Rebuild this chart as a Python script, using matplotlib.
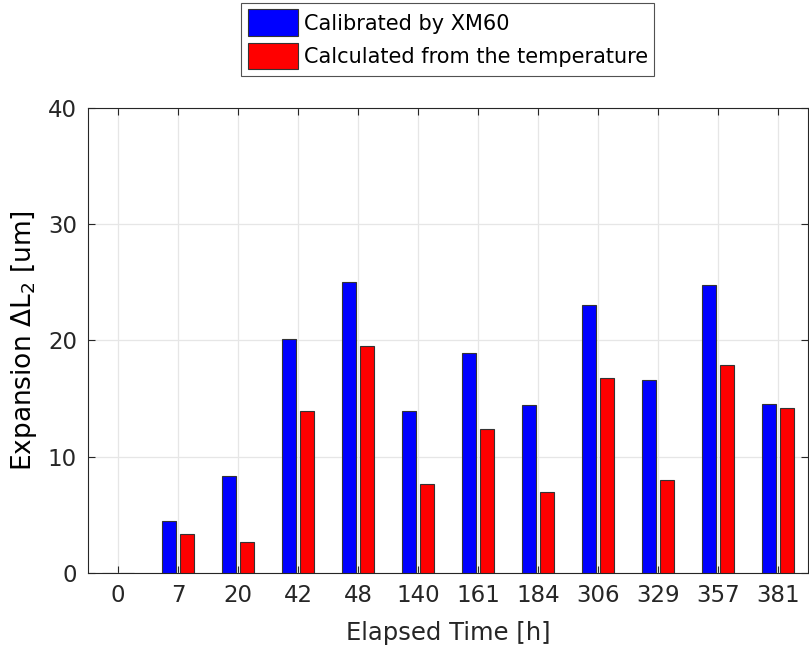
import matplotlib
matplotlib.use("Agg")
import matplotlib.pyplot as plt
import numpy as np

elapsed_hours = ["0", "7", "20", "42", "48", "140", "161", "184", "306", "329", "357", "381"]
calibrated_xm60 = [0, 4.45, 8.3, 20.1, 25.0, 13.9, 18.9, 14.4, 23.05, 16.6, 24.8, 14.5]
calculated_temp = [0, 3.3, 2.6, 13.9, 19.5, 7.65, 12.35, 6.95, 16.8, 7.95, 17.85, 14.15]

plt.rcParams["font.family"] = ["DejaVu Sans"]

fig = plt.figure(figsize=(8.09, 6.48), dpi=100)
ax = fig.add_axes([0.1088, 0.1162, 0.8900, 0.7171])

x = np.arange(1, len(elapsed_hours) + 1)
w = 0.235
off = 0.145
b1 = ax.bar(x - off, calibrated_xm60, width=w, color="#0000ff", edgecolor="#333333",
            linewidth=0.8, label="Calibrated by XM60", zorder=3)
b2 = ax.bar(x + off, calculated_temp, width=w, color="#ff0000", edgecolor="#333333",
            linewidth=0.8, label="Calculated from the temperature", zorder=3)

ax.set_xlim(0.5, len(elapsed_hours) + 0.5)
ax.set_ylim(0, 40)
ax.set_xticks(x)
ax.set_xticklabels(elapsed_hours)
ax.set_yticks([0, 10, 20, 30, 40])

ax.grid(True, color="#e6e6e6", linewidth=0.9, zorder=0)
ax.set_axisbelow(True)
ax.tick_params(direction="in", length=5, width=0.8, colors="#262626",
               labelsize=16.5, top=True, right=True, pad=8)
for s in ax.spines.values():
    s.set_color("#262626")
    s.set_linewidth(0.8)

ax.set_xlabel("Elapsed Time [h]", fontsize=17.5, color="#262626", labelpad=10)
ax.set_ylabel(r"Expansion $\Delta$L$_2$ [um]", fontsize=19, color="black", labelpad=6)

leg = fig.legend(handles=[b1, b2], loc="upper center", bbox_to_anchor=(0.5535, 0.995),
                 fontsize=15, frameon=True, fancybox=False, edgecolor="#262626",
                 handlelength=2.4, handleheight=1.6, handletextpad=0.3,
                 borderpad=0.3, labelspacing=0.3, borderaxespad=0.0)
leg.get_frame().set_linewidth(0.8)

fig.savefig("out.png", dpi=100)
